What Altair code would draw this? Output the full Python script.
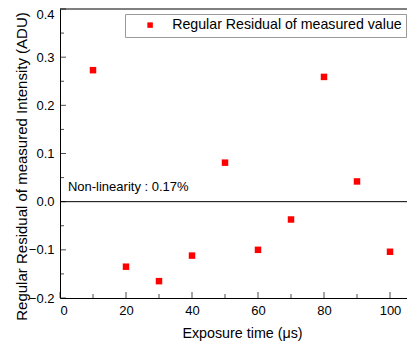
import altair as alt
import pandas as pd

exposure = [10, 20, 30, 40, 50, 60, 70, 80, 90, 100]
residual = [0.273, -0.135, -0.165, -0.112, 0.081, -0.100, -0.037, 0.259, 0.042, -0.104]
series_name = "Regular Residual of measured value"
y_major = [-0.2, -0.1, 0.0, 0.1, 0.2, 0.3, 0.4]
y_minor = [-0.15, -0.05, 0.05, 0.15, 0.25, 0.35]
x_major = [0, 20, 40, 60, 80, 100]
x_minor = [10, 30, 50, 70, 90]
note_text = "Non-linearity : 0.17%"

W, H = 347, 289
FONT = "Liberation Sans"

df = pd.DataFrame({"t": exposure, "r": residual, "s": series_name})

xscale = alt.Scale(domain=[0, 105.15], nice=False, zero=False)
yscale = alt.Scale(domain=[-0.2, 0.4], nice=False, zero=False)

points = alt.Chart(df).mark_point(shape="square", filled=True, opacity=1, size=42).encode(
    x=alt.X("t:Q", scale=xscale, title="Exposure time (\u03bcs)",
            axis=alt.Axis(values=x_major, ticks=False, grid=False, labelPadding=6,
                          titleX=182, titleY=39, titleBaseline="alphabetic",
                          titleFontSize=14.3)),
    y=alt.Y("r:Q", scale=yscale, title="Regular Residual of measured Intensity (ADU)",
            axis=alt.Axis(values=y_major, ticks=False, grid=False, labelPadding=6,
                          format=".1f", titleX=-34, titleY=157, titleBaseline="alphabetic",
                          titleFontSize=15,
                          labelOffset={"condition": {"test": "datum.value >= 0.39", "value": 5}, "value": 0})),
    color=alt.Color("s:N", scale=alt.Scale(range=["#ff0000"]),
                    legend=alt.Legend(title=None, orient="none", legendX=65, legendY=5,
                                      symbolType="square", symbolSize=30,
                                      strokeColor="#999999", fillColor="white",
                                      padding=4, labelFontSize=14.2, labelFont=FONT,
                                      labelColor="black", symbolStrokeWidth=0,
                                      symbolOffset=14, labelOffset=15, labelLimit=0)),
)

zero = alt.Chart(pd.DataFrame({"z": [0.0]})).mark_rule(color="black", strokeWidth=1).encode(
    y=alt.Y("z:Q", scale=yscale))

top = alt.Chart(pd.DataFrame({"z": [0.4]})).mark_rule(color="black", strokeWidth=1).encode(
    y=alt.Y("z:Q", scale=yscale))

note = alt.Chart(pd.DataFrame({"t": [2.4], "r": [0.031], "txt": [note_text]})).mark_text(
    align="left", baseline="middle", fontSize=13, font=FONT, color="black").encode(
    x=alt.X("t:Q", scale=xscale), y=alt.Y("r:Q", scale=yscale), text="txt:N")

ytm = alt.Chart(pd.DataFrame({"v": y_major})).mark_tick(orient="horizontal", size=6, thickness=1, color="black").encode(
    y=alt.Y("v:Q", scale=yscale), x=alt.value(3))
ytn = alt.Chart(pd.DataFrame({"v": y_minor})).mark_tick(orient="horizontal", size=4, thickness=1, color="black").encode(
    y=alt.Y("v:Q", scale=yscale), x=alt.value(2))
xtm = alt.Chart(pd.DataFrame({"v": x_major})).mark_tick(orient="vertical", size=6, thickness=1, color="black").encode(
    x=alt.X("v:Q", scale=xscale), y=alt.value(H - 3))
xtn = alt.Chart(pd.DataFrame({"v": x_minor})).mark_tick(orient="vertical", size=4, thickness=1, color="black").encode(
    x=alt.X("v:Q", scale=xscale), y=alt.value(H - 2))

chart = alt.layer(zero, top, ytm, ytn, xtm, xtn, note, points).properties(
    width=W, height=H,
    autosize=alt.AutoSizeParams(type="none"),
    padding={"left": 52, "top": 1, "right": 0, "bottom": 43},
).configure_view(stroke=None).configure_axis(
    domainColor="black", labelColor="black", titleColor="black",
    labelFont=FONT, titleFont=FONT, labelFontSize=13, titleFontSize=14,
    titleFontWeight="normal",
)

chart.save("out.html", embed_options={"renderer": "svg", "actions": False})
